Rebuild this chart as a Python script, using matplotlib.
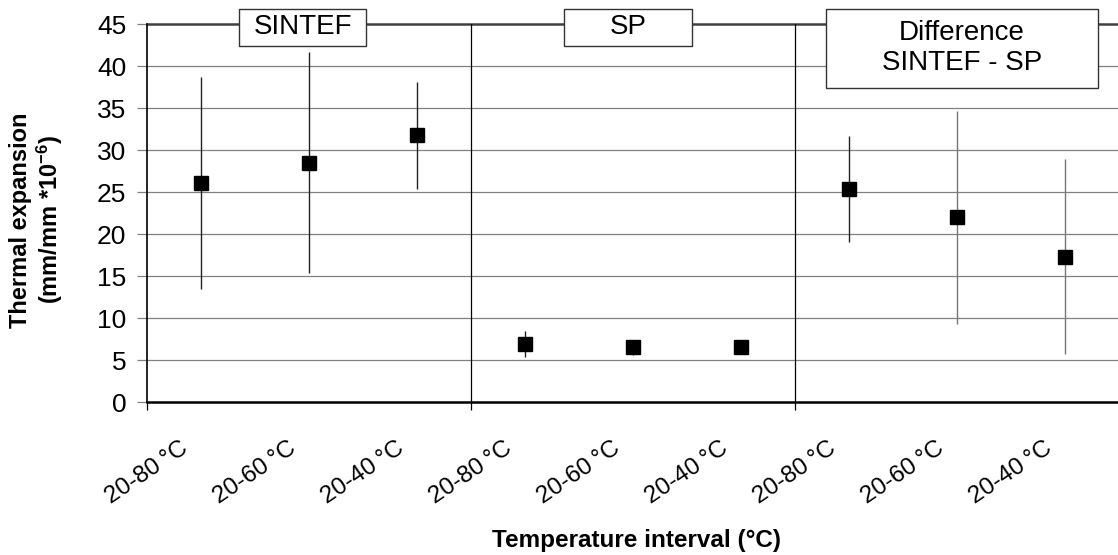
"""
Thermal expansion per temperature interval, SINTEF vs SP and their
difference; square = mean, vertical line = spread.
"""
import numpy as np
import matplotlib
matplotlib.use("Agg")
import matplotlib.pyplot as plt
from matplotlib.patches import Rectangle
from matplotlib.transforms import ScaledTranslation

plt.rcParams["font.family"] = ["Liberation Sans", "DejaVu Sans"]
plt.rcParams["mathtext.default"] = "regular"

# --------------------------------------------------------------------------
# Data
# --------------------------------------------------------------------------
intervals = ["20-80\u2009°C", "20-60\u2009°C", "20-40\u2009°C"] * 3
groups = ["SINTEF", "SP", "Difference\nSINTEF - SP"]

mean_vals = [26.1, 28.5, 31.8, 6.9, 6.6, 6.5, 25.3, 22.0, 17.3]
upper_vals = [38.7, 41.7, 38.1, 8.45, 7.4, 7.0, 31.7, 34.7, 28.9]
lower_vals = [13.5, 15.3, 25.4, 5.4, 5.6, 6.0, 19.0, 9.25, 5.7]
bar_colors = ["#222222"] * 7 + ["#777777"] * 2

y_ticks = [0, 5, 10, 15, 20, 25, 30, 35, 40, 45]

# group label boxes: (x0, x1, y0, y1) in data units
box_spans = [(0.852, 2.028, 42.4, 46.8),
             (3.861, 5.046, 42.4, 46.8),
             (6.287, 8.806, 37.4, 46.8)]


def main() -> None:
    fig = plt.figure(figsize=(11.18, 5.55), dpi=100)
    ax = fig.add_axes([147 / 1118, 1 - 402 / 555, 972 / 1118, 378 / 555])

    x = np.arange(len(mean_vals)) + 0.5

    ax.set_xlim(0, len(mean_vals))
    ax.set_ylim(0, 45)

    # horizontal grid
    for yv in y_ticks[1:-1]:
        ax.axhline(yv, color="#808080", lw=0.9, zorder=1)
    ax.axhline(45, color="#404040", lw=1.8, zorder=1, clip_on=False)

    # group separators
    n_groups = len(groups)
    per = len(mean_vals) // n_groups
    for g in range(1, n_groups):
        ax.axvline(g * per, color="black", lw=0.9, zorder=1)

    # spread + means
    ax.vlines(x, lower_vals, upper_vals, colors=bar_colors, lw=1.0, zorder=2)
    ax.plot(x, mean_vals, ls="none", marker="s", ms=10.5, color="black",
            zorder=3)

    # spines
    for s in ("top", "right"):
        ax.spines[s].set_visible(False)
    ax.spines["bottom"].set_linewidth(1.8)
    ax.spines["left"].set_linewidth(1.2)

    # y axis
    ax.set_yticks(y_ticks)
    ax.tick_params(axis="y", length=7, width=0.9, color="#808080", pad=8,
                   labelsize=19)

    # x axis: ticks only at group borders, labels at categories
    ax.set_xticks(np.arange(0, len(mean_vals) + 1, per), minor=True)
    ax.tick_params(axis="x", which="minor", length=6, width=0.9,
                   color="black")
    ax.set_xticks(x)
    ax.set_xticklabels(intervals, rotation=34, ha="right", va="top")
    ax.tick_params(axis="x", which="major", length=0, pad=25, labelsize=17.5)
    shift = ScaledTranslation(-9 / 100, 0, fig.dpi_scale_trans)
    for lab in ax.get_xticklabels():
        lab.set_transform(lab.get_transform() + shift)

    # group boxes
    for name, (x0, x1, y0, y1) in zip(groups, box_spans):
        ax.add_patch(Rectangle((x0, y0), x1 - x0, y1 - y0, fc="white",
                               ec="#333333", lw=1.0, zorder=5,
                               clip_on=False))
        ax.text((x0 + x1) / 2, (y0 + y1) / 2, name, ha="center",
                va="center", fontsize=20, zorder=6, linespacing=1.2)

    fig.text(37 / 1118, 1 - 220 / 555,
             "Thermal expansion\n(mm/mm *10$^{-6}$)",
             rotation=90, ha="center", va="center", fontsize=17,
             fontweight="bold", multialignment="center", linespacing=1.1)
    fig.text(637 / 1118, 1 - 540 / 555, "Temperature interval (°C)",
             ha="center", va="center", fontsize=17.5, fontweight="bold")

    fig.savefig("out.png", dpi=100)
    plt.close(fig)


if __name__ == "__main__":
    main()
